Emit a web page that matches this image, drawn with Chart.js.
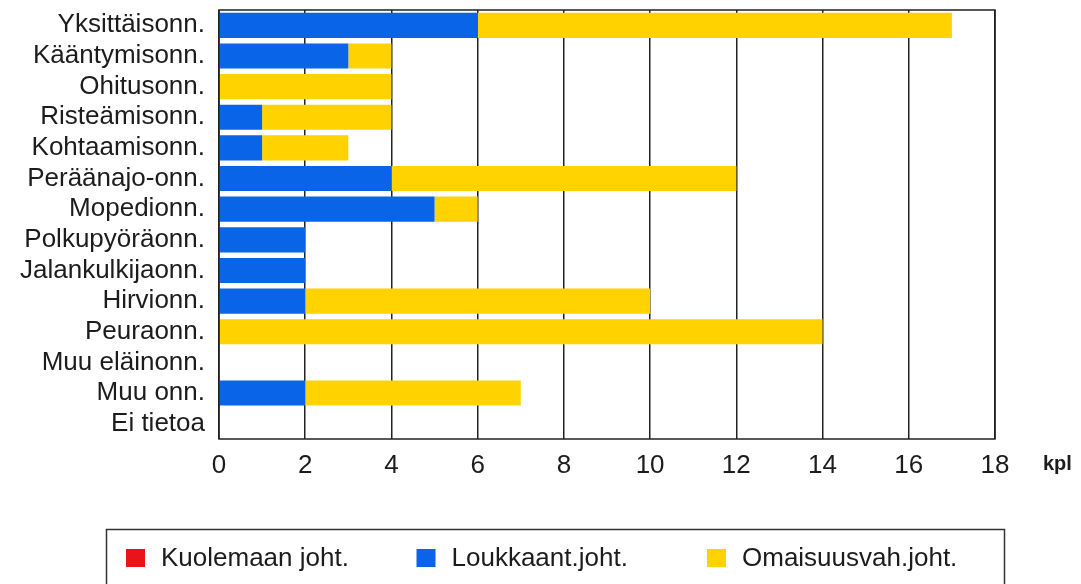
<!DOCTYPE html>
<html>
<head>
<meta charset="utf-8">
<script src="https://cdn.jsdelivr.net/npm/chart.js@4/dist/chart.umd.min.js"></script>
<style>
  html, body { margin: 0; padding: 0; background: #fff; }
  #wrap { width: 1081px; height: 584px; }
</style>
</head>
<body>
<div id="wrap"><canvas id="c" width="1081" height="584"></canvas></div>
<script>
// Onnettomuustyypit ja seurausluokat (kpl)
const categories = [
  'Yksittäisonn.', 'Kääntymisonn.', 'Ohitusonn.', 'Risteämisonn.', 'Kohtaamisonn.',
  'Peräänajo-onn.', 'Mopedionn.', 'Polkupyöräonn.', 'Jalankulkijaonn.', 'Hirvionn.',
  'Peuraonn.', 'Muu eläinonn.', 'Muu onn.', 'Ei tietoa'
];
const kuolemaanJoht   = [0, 0, 0, 0, 0, 0, 0, 0, 0, 0, 0, 0, 0, 0];
const loukkaantJoht   = [6, 3, 0, 1, 1, 4, 5, 2, 2, 2, 0, 0, 2, 0];
const omaisuusvahJoht = [11, 1, 4, 3, 2, 8, 1, 0, 0, 8, 14, 0, 5, 0];
const seriesNames = ['Kuolemaan joht.', 'Loukkaant.joht.', 'Omaisuusvah.joht.'];
const axisUnit = 'kpl';

const FONT = '"Liberation Sans", Arial, sans-serif';
const TEXT = '#1c1c1c';
const colors = ['#e8141a', '#0a64e8', '#ffd200'];

// Kehys piirtoalueen ympärille, yksikkö ja selite
const framePlugin = {
  id: 'frame',
  afterDraw(chart) {
    const { ctx, chartArea: a } = chart;
    ctx.save();
    ctx.strokeStyle = '#222';
    ctx.lineWidth = 1.5;
    ctx.strokeRect(a.left, a.top, a.right - a.left, a.bottom - a.top);

    ctx.fillStyle = TEXT;
    ctx.font = 'bold 20px ' + FONT;
    ctx.textAlign = 'left';
    ctx.textBaseline = 'alphabetic';
    ctx.fillText(axisUnit, 1043, 470);

    // selitelaatikko
    ctx.strokeStyle = '#333';
    ctx.lineWidth = 1.5;
    ctx.strokeRect(106.5, 529.5, 898, 80);
    ctx.font = '26px ' + FONT;
    ctx.textBaseline = 'middle';
    chart.data.datasets.forEach((ds, i) => {
      const x = 126 + i * 290.5;
      ctx.fillStyle = ds.backgroundColor;
      ctx.fillRect(x, 549, 19, 18);
      ctx.fillStyle = TEXT;
      ctx.fillText(ds.label, x + 35, 559);
    });
    ctx.restore();
  }
};

new Chart(document.getElementById('c'), {
  type: 'bar',
  data: {
    labels: categories,
    datasets: [
      { label: seriesNames[0], data: kuolemaanJoht,   backgroundColor: colors[0] },
      { label: seriesNames[1], data: loukkaantJoht,   backgroundColor: colors[1] },
      { label: seriesNames[2], data: omaisuusvahJoht, backgroundColor: colors[2] }
    ]
  },
  options: {
    indexAxis: 'y',
    responsive: false,
    animation: false,
    devicePixelRatio: 1,
    layout: { padding: { top: 10, right: 86, bottom: 95, left: 0 } },
    datasets: { bar: { barPercentage: 0.82, categoryPercentage: 1, borderWidth: 0 } },
    plugins: { legend: { display: false }, tooltip: { enabled: false } },
    scales: {
      x: {
        stacked: true,
        min: 0, max: 18,
        ticks: { stepSize: 2, padding: 11, color: TEXT, font: { family: FONT, size: 26 } },
        grid: { color: '#222', lineWidth: 1.5, drawTicks: false },
        border: { display: false },
        afterFit(scale) { scale.height = 50; }
      },
      y: {
        stacked: true,
        ticks: { padding: 14, color: TEXT, font: { family: FONT, size: 26 }, autoSkip: false },
        grid: { display: false, drawTicks: false },
        border: { display: false },
        afterFit(scale) {
          scale.width = 219;
          scale.paddingTop = 0;
          scale.paddingBottom = 0;
        }
      }
    }
  },
  plugins: [framePlugin]
});
</script>
</body>
</html>
